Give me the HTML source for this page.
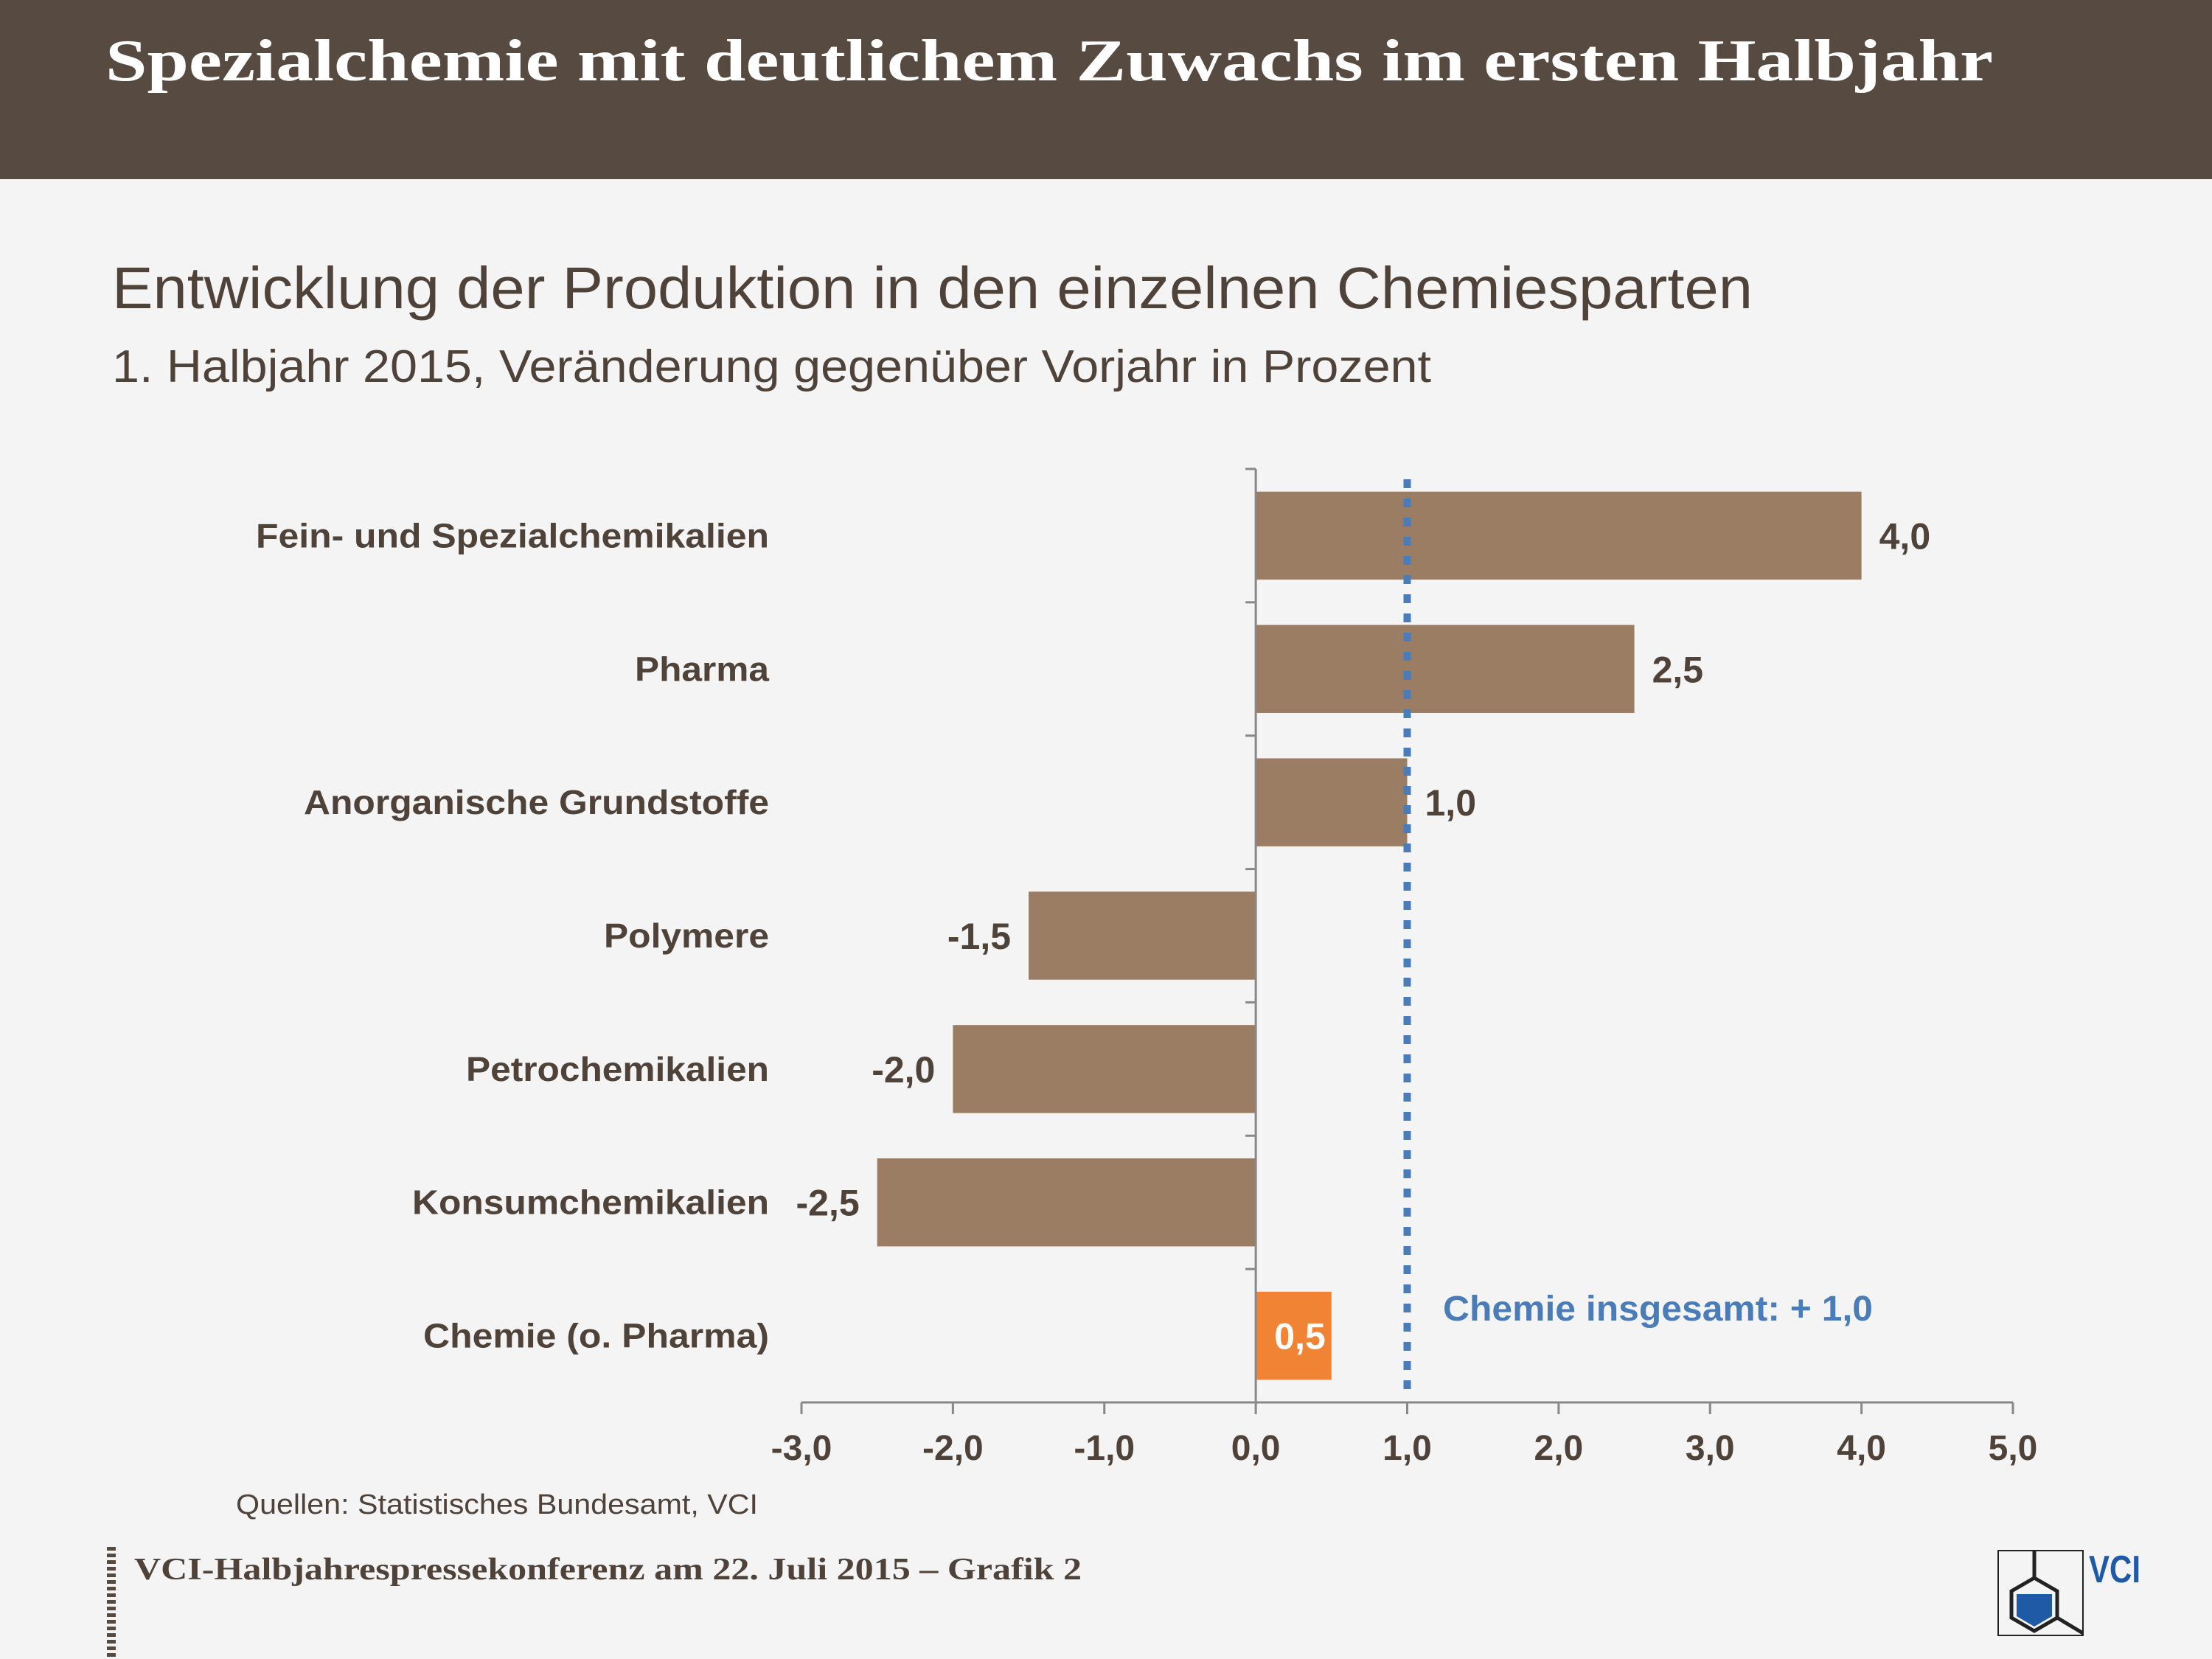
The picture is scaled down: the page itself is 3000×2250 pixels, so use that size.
<!DOCTYPE html>
<html><head><meta charset="utf-8"><style>
html,body{margin:0;padding:0;background:#f4f4f4;}
svg{display:block;}
</style></head><body>
<svg width="3000" height="2250" viewBox="0 0 3000 2250" xmlns="http://www.w3.org/2000/svg">
<rect x="0" y="0" width="3000" height="2250" fill="#f4f4f4"/>
<rect x="0" y="0" width="3000" height="243" fill="#574a40"/>
<text x="143" y="109" font-family="'Liberation Serif',serif" font-weight="bold" font-size="80" fill="#ffffff" textLength="2560" lengthAdjust="spacingAndGlyphs">Spezialchemie mit deutlichem Zuwachs im ersten Halbjahr</text>
<text x="152" y="418" font-family="'Liberation Sans',sans-serif" font-size="80" fill="#4f4239" textLength="2225" lengthAdjust="spacingAndGlyphs">Entwicklung der Produktion in den einzelnen Chemiesparten</text>
<text x="152" y="518" font-family="'Liberation Sans',sans-serif" font-size="62" fill="#4f4239" textLength="1789" lengthAdjust="spacingAndGlyphs">1. Halbjahr 2015, Veränderung gegenüber Vorjahr in Prozent</text>
<g id="plot"></g>
<text x="320" y="2053" font-family="'Liberation Sans',sans-serif" font-size="38" fill="#4f4239" textLength="708" lengthAdjust="spacingAndGlyphs">Quellen: Statistisches Bundesamt, VCI</text>
<line x1="151" y1="2098" x2="151" y2="2250" stroke="#574a40" stroke-width="12" stroke-dasharray="5 4"/>
<text x="182" y="2142" font-family="'Liberation Serif',serif" font-weight="bold" font-size="42" fill="#4f4239" textLength="1285" lengthAdjust="spacingAndGlyphs">VCI-Halbjahrespressekonferenz am 22. Juli 2015 – Grafik 2</text>
<g>
<rect x="2710" y="2103" width="115" height="115" fill="none" stroke="#222" stroke-width="2"/>
<line x1="2759" y1="2103" x2="2759" y2="2140" stroke="#222" stroke-width="5"/>
<polygon points="2759,2140 2790,2158 2790,2194 2759,2212 2728,2194 2728,2158" fill="none" stroke="#222" stroke-width="5"/>
<polygon points="2735,2162 2783,2162 2783,2192 2759,2206 2735,2192" fill="#1f5aa6"/>
<line x1="2790" y1="2194" x2="2825" y2="2215" stroke="#222" stroke-width="5"/>
<text x="2833" y="2146" font-family="'Liberation Sans',sans-serif" font-weight="bold" font-size="52" fill="#1f5aa6" textLength="70" lengthAdjust="spacingAndGlyphs">VCI</text>
</g>
</svg>
<script>
const categories=["Fein- und Spezialchemikalien","Pharma","Anorganische Grundstoffe","Polymere","Petrochemikalien","Konsumchemikalien","Chemie (o. Pharma)"];
const values=[4.0,2.5,1.0,-1.5,-2.0,-2.5,0.5];
const valueLabels=["4,0","2,5","1,0","-1,5","-2,0","-2,5","0,5"];
const ticks=[-3,-2,-1,0,1,2,3,4,5];
const tickLabels=["-3,0","-2,0","-1,0","0,0","1,0","2,0","3,0","4,0","5,0"];
const totalValue=1.0;
const totalLabel="Chemie insgesamt: + 1,0";

const labelStyleWidths={"Fein- und Spezialchemikalien":696,"Pharma":182,"Anorganische Grundstoffe":631,"Polymere":224,"Petrochemikalien":411,"Konsumchemikalien":484,"Chemie (o. Pharma)":469};
const NS="http://www.w3.org/2000/svg";
const g=document.getElementById('plot');
const X0=1087,X1=2730,XMIN=-3,XMAX=5,YT=636,YB=1902;
const x=v=>X0+(v-XMIN)/(XMAX-XMIN)*(X1-X0);
const rowH=(YB-YT)/categories.length;
const yRow=i=>YT+i*rowH;
function mk(tag,attrs,text){const e=document.createElementNS(NS,tag);for(const k in attrs)e.setAttribute(k,attrs[k]);if(text!==undefined)e.textContent=text;g.appendChild(e);return e;}
const dark="#4f4239";
categories.forEach((c,i)=>{
  const v=values[i];const y=yRow(i)+rowH*0.17;const h=rowH*0.66;
  const last=i===categories.length-1;
  const r=mk('rect',{x:Math.min(x(0),x(v)),y:y,width:Math.abs(x(v)-x(0)),height:h,fill:last?'#f08434':'#9b7d64'});
  
  
  const attrs={x:1043,y:yRow(i)+rowH/2+16,'text-anchor':'end','font-family':"'Liberation Sans',sans-serif",'font-weight':'bold','font-size':46,fill:dark};
  if(labelStyleWidths[c]){attrs.textLength=labelStyleWidths[c];attrs.lengthAdjust='spacingAndGlyphs';}
  const t=mk('text',attrs,c);
  
  
  let lx,anchor,col=dark;
  if(last){lx=x(v)-8;anchor='end';col='#ffffff';}
  else if(v>=0){lx=x(v)+24;anchor='start';}
  else{lx=x(v)-24;anchor='end';}
  const vl=mk('text',{x:lx,y:yRow(i)+rowH/2+18,'text-anchor':anchor,'font-family':"'Liberation Sans',sans-serif",'font-weight':'bold','font-size':50,fill:col},valueLabels[i]);
  
  
});
const ya=mk('line',{x1:x(0),y1:YT,x2:x(0),y2:YB,stroke:'#888',"stroke-width":3});


for(let i=0;i<=categories.length;i++){
  const tk=mk('line',{x1:x(0)-14,y1:yRow(i),x2:x(0),y2:yRow(i),stroke:'#888',"stroke-width":3});
  
  
}
const xa=mk('line',{x1:X0,y1:YB,x2:X1,y2:YB,stroke:'#888',"stroke-width":3});


ticks.forEach((t,i)=>{
  const tk=mk('line',{x1:x(t),y1:YB,x2:x(t),y2:YB+16,stroke:'#888',"stroke-width":3});
  
  
  const tl=mk('text',{x:x(t),y:YB+78,'text-anchor':'middle','font-family':"'Liberation Sans',sans-serif",'font-weight':'bold','font-size':48,fill:dark},tickLabels[i]);
  
  
});
const rl=mk('line',{x1:x(totalValue),y1:650,x2:x(totalValue),y2:1890,stroke:'#4a7db7',"stroke-width":10,"stroke-dasharray":"12 14"});


const rt=mk('text',{x:1957,y:1791,'font-family':"'Liberation Sans',sans-serif",'font-weight':'bold','font-size':48,fill:'#4a7db7',textLength:583,lengthAdjust:'spacingAndGlyphs'},totalLabel);


</script>
</body></html>
